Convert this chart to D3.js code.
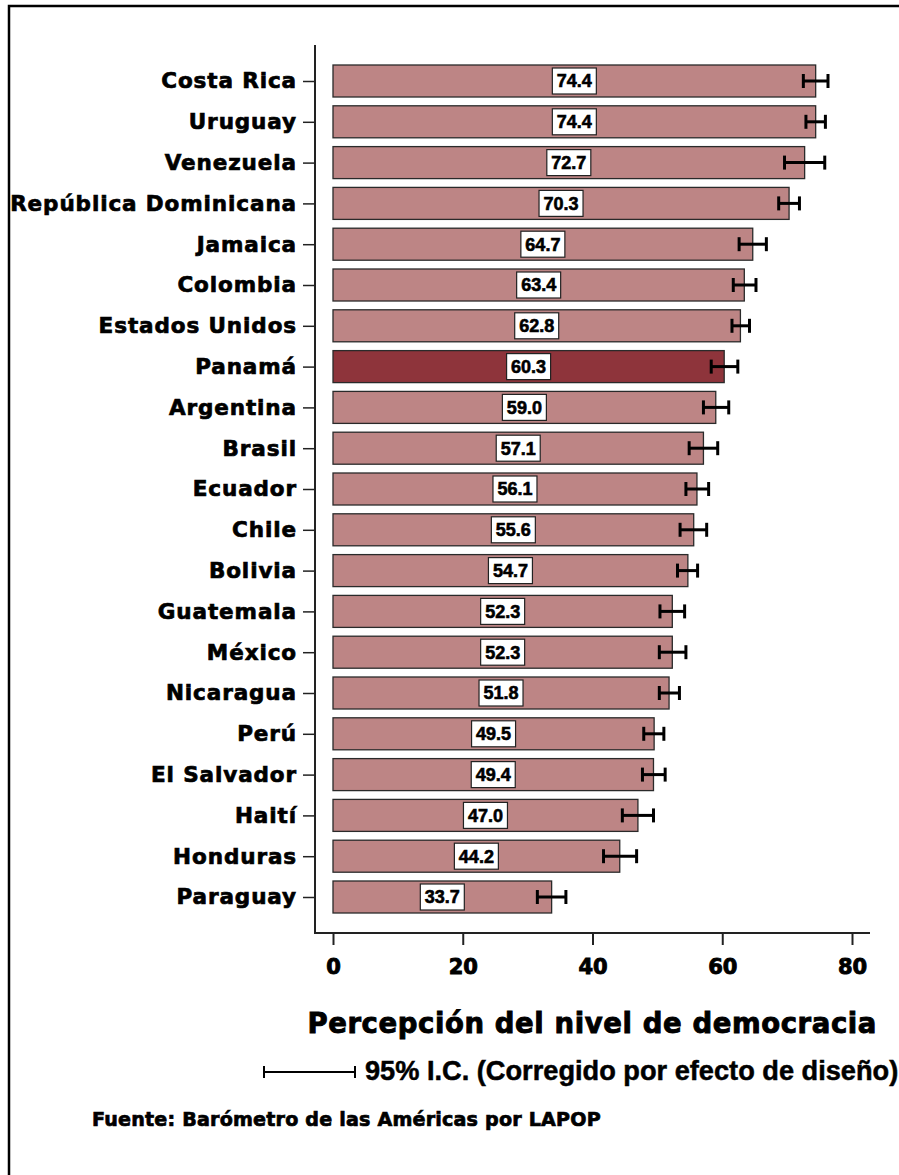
<!DOCTYPE html>
<meta charset="utf-8">
<style>
  body { margin: 0; background: #fff; }
</style>
<body>
<script src="https://cdn.jsdelivr.net/npm/d3@7"></script>
<script>

    var width = 899,
        height = 1175;

    // datos del gráfico
    var paises = ["Costa Rica", "Uruguay", "Venezuela", "República Dominicana", "Jamaica",
        "Colombia", "Estados Unidos", "Panamá", "Argentina", "Brasil", "Ecuador", "Chile",
        "Bolivia", "Guatemala", "México", "Nicaragua", "Perú", "El Salvador", "Haití",
        "Honduras", "Paraguay"];
    var valores = [74.4, 74.4, 72.7, 70.3, 64.7, 63.4, 62.8, 60.3, 59.0, 57.1, 56.1, 55.6,
        54.7, 52.3, 52.3, 51.8, 49.5, 49.4, 47.0, 44.2, 33.7];
    var icInf = [72.5, 72.9, 69.6, 68.7, 62.6, 61.7, 61.5, 58.3, 57.1, 54.9, 54.4, 53.5,
        53.1, 50.4, 50.3, 50.3, 47.9, 47.7, 44.6, 41.7, 31.5];
    var icSup = [76.3, 75.9, 75.8, 71.9, 66.8, 65.2, 64.2, 62.4, 61.0, 59.3, 57.9, 57.6,
        56.2, 54.2, 54.4, 53.4, 51.0, 51.2, 49.4, 46.8, 35.9];
    var ticksX = [0, 20, 40, 60, 80];
    var destacado = "Panamá";

    var svg = d3.select("body").append("svg")
            .attr("width", width)
            .attr("height", height);

    // marco
    svg.append("path")
            .attr("d", "M9,1175 V6 H899")
            .attr("fill", "none")
            .attr("stroke", "#000")
            .attr("stroke-width", 2.5);

    var x = d3.scaleLinear().domain([0, 80]).range([333, 852]);
    var y = d3.scalePoint().domain(paises).range([81, 897]);
    var barH = 32;

    var blackFont = "'DejaVu Sans', sans-serif";
    var boldFont = "'Liberation Sans', Arial, sans-serif";

    // ejes
    svg.append("line")
            .attr("x1", 315).attr("x2", 315).attr("y1", 45).attr("y2", 934)
            .attr("stroke", "#222").attr("stroke-width", 2);
    svg.append("line")
            .attr("x1", 314).attr("x2", 870).attr("y1", 933).attr("y2", 933)
            .attr("stroke", "#222").attr("stroke-width", 2);

    var ejeX = svg.append("g")
            .attr("transform", "translate(0,933)")
            .call(d3.axisBottom(x).tickValues(ticksX).tickSize(12).tickPadding(14));
    ejeX.select(".domain").remove();
    ejeX.selectAll(".tick line").attr("stroke", "#222").attr("stroke-width", 2);
    ejeX.selectAll(".tick text")
            .attr("font-family", blackFont)
            .attr("font-weight", "bold")
            .attr("font-size", 21)
            .attr("stroke", "#000").attr("stroke-width", 0.9)
            .attr("fill", "#000");

    var ejeY = svg.append("g")
            .attr("transform", "translate(315,0)")
            .call(d3.axisLeft(y).tickSize(12).tickPadding(6));
    ejeY.select(".domain").remove();
    ejeY.selectAll(".tick line").attr("stroke", "#222").attr("stroke-width", 1.5);
    ejeY.selectAll(".tick text")
            .attr("font-family", blackFont)
            .attr("font-weight", "bold")
            .attr("font-size", 21.5)
            .attr("letter-spacing", 0.9)
            .attr("stroke", "#000").attr("stroke-width", 0.7)
            .attr("fill", "#000");

    var filas = paises.map(function(p, i) {
        return {pais: p, valor: valores[i], inf: icInf[i], sup: icSup[i]};
    });

    // barras
    svg.append("g").selectAll("rect")
            .data(filas)
            .enter().append("rect")
            .attr("x", x(0))
            .attr("y", function(d) { return y(d.pais) - barH / 2; })
            .attr("width", function(d) { return x(d.valor) - x(0); })
            .attr("height", barH)
            .attr("fill", function(d) { return d.pais === destacado ? "#8e343b" : "#bd8585"; })
            .attr("stroke", "#2a2a2a")
            .attr("stroke-width", 1.3);

    // intervalos de confianza
    var ic = svg.append("g").selectAll("g")
            .data(filas)
            .enter().append("g")
            .attr("stroke", "#000")
            .attr("stroke-width", 3);
    ic.append("line")
            .attr("x1", function(d) { return x(d.inf); })
            .attr("x2", function(d) { return x(d.sup); })
            .attr("y1", function(d) { return y(d.pais); })
            .attr("y2", function(d) { return y(d.pais); });
    ic.append("line")
            .attr("x1", function(d) { return x(d.inf); })
            .attr("x2", function(d) { return x(d.inf); })
            .attr("y1", function(d) { return y(d.pais) - 7; })
            .attr("y2", function(d) { return y(d.pais) + 7; });
    ic.append("line")
            .attr("x1", function(d) { return x(d.sup); })
            .attr("x2", function(d) { return x(d.sup); })
            .attr("y1", function(d) { return y(d.pais) - 7; })
            .attr("y2", function(d) { return y(d.pais) + 7; });

    // etiquetas de valor
    var etiq = svg.append("g").selectAll("g")
            .data(filas)
            .enter().append("g")
            .attr("transform", function(d) { return "translate(" + x(d.valor / 2) + "," + y(d.pais) + ")"; });
    etiq.append("rect")
            .attr("x", -22).attr("y", -13)
            .attr("width", 44).attr("height", 26)
            .attr("fill", "#fff")
            .attr("stroke", "#222")
            .attr("stroke-width", 1.2);
    etiq.append("text")
            .attr("text-anchor", "middle")
            .attr("dy", "0.36em")
            .attr("font-family", boldFont)
            .attr("font-weight", "bold")
            .attr("font-size", 18)
            .attr("stroke", "#000").attr("stroke-width", 0.6)
            .text(function(d) { return d3.format(".1f")(d.valor); });

    // título del eje
    svg.append("text")
            .attr("x", 877).attr("y", 1033)
            .attr("text-anchor", "end")
            .attr("font-family", blackFont)
            .attr("font-weight", "bold")
            .attr("font-size", 27.5)
            .attr("letter-spacing", 0.6)
            .attr("stroke", "#000").attr("stroke-width", 0.9)
            .text("Percepción del nivel de democracia");

    // leyenda
    var ley = svg.append("g").attr("stroke", "#000").attr("stroke-width", 2);
    ley.append("line").attr("x1", 264).attr("x2", 355).attr("y1", 1072).attr("y2", 1072);
    ley.append("line").attr("x1", 264).attr("x2", 264).attr("y1", 1066).attr("y2", 1078);
    ley.append("line").attr("x1", 355).attr("x2", 355).attr("y1", 1066).attr("y2", 1078);

    svg.append("text")
            .attr("x", 365).attr("y", 1080)
            .attr("font-family", boldFont)
            .attr("font-weight", "bold")
            .attr("font-size", 27.2)
            .attr("stroke", "#000").attr("stroke-width", 0.5)
            .text("95% I.C. (Corregido por efecto de diseño)");

    svg.append("text")
            .attr("x", 92).attr("y", 1126)
            .attr("font-family", blackFont)
            .attr("font-weight", "bold")
            .attr("font-size", 19.1)
            .attr("letter-spacing", 0.2)
            .attr("stroke", "#000").attr("stroke-width", 0.7)
            .text("Fuente: Barómetro de las Américas por LAPOP");

</script>
